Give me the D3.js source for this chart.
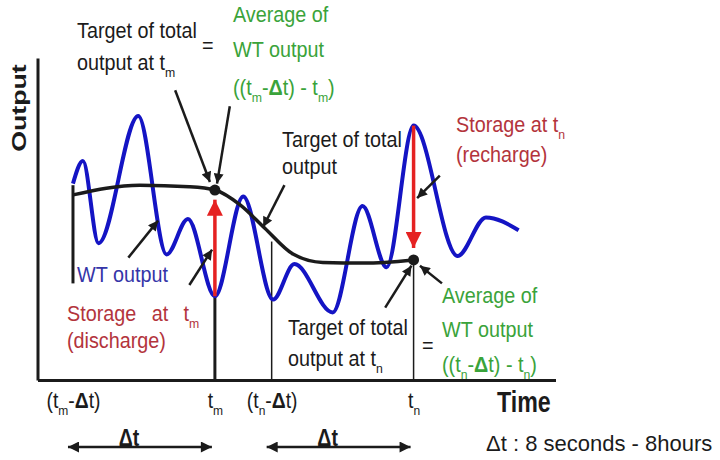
<!DOCTYPE html>
<html>
<head>
<meta charset="utf-8">
<script src="https://cdn.jsdelivr.net/npm/d3@7"></script>
<style>
  html, body { margin: 0; padding: 0; background: #fff; }
  svg { display: block; font-family: "Liberation Sans", Arial, sans-serif; }
</style>
</head>
<body>
<div id="chart"></div>
<script>
// time is counted so that tm-Δt = 0, tm = 10, tn-Δt = 14, tn = 24
const tickTimes = [0, 10, 14, 24];
const tickNames = ["(t_m-*Δ*t)", "t_m", "(t_n-*Δ*t)", "t_n"];

// wind turbine output (blue) and target of total output (black)
const wtTime = [0, 0.7, 1.8, 4.6, 6.6, 8.1, 10, 12.0, 14.1, 15.6, 18.3, 20.4, 22.1, 24, 27.1, 29.1, 31.4];
const wtOutput = [61, 68, 42.5, 82, 39, 50, 26, 57, 25, 36, 21, 54, 35, 79, 38.5, 50.5, 46.5];
const targetTime = [0, 4.7, 8.2, 10, 11.8, 13.5, 15.5, 17.6, 20.5, 24];
const targetOutput = [57.5, 60.5, 60, 59, 54.3, 47.2, 39.1, 36.5, 36.3, 37.3];

// averages marked at tm and tn
const markTime = [10, 24];
const markOutput = [59, 37.3];

// storage arrows: from WT output to target
const storeTime = [10, 24];
const storeFrom = [26, 79];
const storeTo = [56, 41];

// vertical guide lines
const dropTime = [0, 10, 14, 24];
const dropLow = [30, 0, 0, 0];
const dropHigh = [60.5, 26, 43, 37.3];

// the two Δt spans under the axis
const spanStart = [0, 14];
const spanEnd = [10, 24];

// callout pointers [t, value] -> [t, value]
const pointerFrom = [[7.2, 90], [11.05, 85], [14.9, 60.5], [3.9, 38], [8.2, 29.5], [25.85, 63.5], [22.0, 22.5], [26.0, 30]];
const pointerTo = [[9.65, 61.5], [10.15, 61], [13.4, 47.5], [6.0, 49.5], [9.8, 40.5], [24.25, 56.5], [23.85, 35.5], [24.45, 35.5]];

const ink = "#1b1b1b", green = "#3aa33a", maroon = "#b3343c", navy = "#3535a8";
const blue = "#1414c4", red = "#e52222";

const notes = [
  { x: 77, ys: [38, 70], lines: ["Target of total", "output at t_m"], fill: ink },
  { x: 202, ys: [53], lines: ["="], fill: ink },
  { x: 233, ys: [22, 57, 95], lines: ["Average of", "WT output", "((t_m-*Δ*t) - t_m)"], fill: green },
  { x: 282, ys: [147, 174], lines: ["Target of total", "output"], fill: ink },
  { x: 456, ys: [132, 162], lines: ["Storage at t_n", "(recharge)"], fill: maroon },
  { x: 77, ys: [282], lines: ["WT output"], fill: navy },
  { x: 67, ys: [321, 348], lines: ["Storage at t_m", "(discharge)"], fill: maroon, ws: 11 },
  { x: 288, ys: [335, 366], lines: ["Target of total", "output at t_n"], fill: ink },
  { x: 422, ys: [353], lines: ["="], fill: ink },
  { x: 442, ys: [303, 337, 372], lines: ["Average of", "WT output", "((t_n-*Δ*t) - t_n)"], fill: green },
  { x: 486, ys: [451], lines: ["Δt : 8 seconds - 8hours"], fill: ink, size: 22, sx: 1 }
];

const W = 720, H = 460;
const x = d3.scaleLinear().domain([-2.5, 34]).range([37.5, 555.5]);
const y = d3.scaleLinear().domain([0, 100]).range([380, 58]);

// writes "t_m" with a subscript and "*Δ*" in bold
function rich(sel, str) {
  const parts = str.split(/(_\w|\*[^*]+\*)/).filter(s => s !== "");
  let shift = 0;
  parts.forEach(p => {
    const ts = sel.append("tspan");
    if (p[0] === "_") {
      ts.text(p.slice(1)).attr("font-size", "0.62em").attr("dy", (7 - shift) + "px");
      shift = 7;
    } else {
      if (shift) { ts.attr("dy", -shift + "px"); shift = 0; }
      if (p[0] === "*") ts.text(p.slice(1, -1)).attr("font-weight", "bold");
      else ts.text(p);
    }
  });
}

const svg = d3.select("#chart").append("svg")
  .attr("width", W).attr("height", H);

const defs = svg.append("defs");
function marker(id, color, len, wid) {
  defs.append("marker")
    .attr("id", id)
    .attr("viewBox", "0 0 10 10")
    .attr("refX", 10).attr("refY", 5)
    .attr("markerUnits", "userSpaceOnUse")
    .attr("markerWidth", len).attr("markerHeight", wid)
    .attr("orient", "auto-start-reverse")
    .append("path").attr("d", "M0,0L10,5L0,10z").attr("fill", color);
}
marker("headBlack", ink, 12, 10);
marker("headRed", red, 18, 16);
marker("headSpan", ink, 12, 11);

// axes
const xAxis = svg.append("g")
  .attr("transform", `translate(0,${y(0)})`)
  .call(d3.axisBottom(x).tickValues(tickTimes).tickSize(0).tickSizeOuter(0).tickPadding(12).tickFormat(""));
xAxis.select(".domain").attr("stroke", ink).attr("stroke-width", 3);
xAxis.selectAll(".tick text")
  .attr("font-size", 22).attr("font-family", "Liberation Sans, Arial, sans-serif").attr("fill", ink)
  .attr("transform", "scale(0.88,1)")
  .each(function (d, i) { rich(d3.select(this), tickNames[i]); });

const yAxis = svg.append("g")
  .attr("transform", `translate(${x(-2.5)},0)`)
  .call(d3.axisLeft(y).tickValues([]).tickSizeOuter(0));
yAxis.select(".domain").attr("stroke", ink).attr("stroke-width", 3);

svg.append("text")
  .attr("transform", `translate(26,108) rotate(-90) scale(1.27,1)`)
  .attr("text-anchor", "middle")
  .attr("font-size", 21).attr("font-weight", "bold").attr("fill", ink)
  .text("Output");

svg.append("text")
  .attr("transform", "translate(497,412) scale(0.8,1)")
  .attr("font-size", 29).attr("font-weight", "bold").attr("fill", ink)
  .text("Time");

// guide lines
svg.selectAll("line.drop")
  .data(dropTime)
  .join("line")
  .attr("class", "drop")
  .attr("x1", d => x(d)).attr("x2", d => x(d))
  .attr("y1", (d, i) => y(dropLow[i])).attr("y2", (d, i) => y(dropHigh[i]))
  .attr("stroke", ink)
  .attr("stroke-width", (d, i) => i < 2 ? 3 : 1.5);

// curves
const wtData = wtTime.map((t, i) => [t, wtOutput[i]]);
const targetData = targetTime.map((t, i) => [t, targetOutput[i]]);
const line = d3.line().x(d => x(d[0])).y(d => y(d[1])).curve(d3.curveMonotoneX);

svg.append("path").datum(wtData)
  .attr("d", line).attr("fill", "none")
  .attr("stroke", blue).attr("stroke-width", 4).attr("stroke-linejoin", "round");

svg.append("path").datum(targetData)
  .attr("d", line).attr("fill", "none")
  .attr("stroke", ink).attr("stroke-width", 3.5);

// storage arrows
svg.selectAll("line.store")
  .data(storeTime)
  .join("line")
  .attr("class", "store")
  .attr("x1", d => x(d)).attr("x2", d => x(d))
  .attr("y1", (d, i) => y(storeFrom[i])).attr("y2", (d, i) => y(storeTo[i]))
  .attr("stroke", red).attr("stroke-width", 3.5)
  .attr("marker-end", "url(#headRed)");

svg.selectAll("circle.mark")
  .data(markTime)
  .join("circle")
  .attr("class", "mark")
  .attr("cx", d => x(d)).attr("cy", (d, i) => y(markOutput[i]))
  .attr("r", 5.5).attr("fill", ink);

// callout pointers
svg.selectAll("line.pointer")
  .data(pointerFrom)
  .join("line")
  .attr("class", "pointer")
  .attr("x1", d => x(d[0])).attr("y1", d => y(d[1]))
  .attr("x2", (d, i) => x(pointerTo[i][0])).attr("y2", (d, i) => y(pointerTo[i][1]))
  .attr("stroke", ink).attr("stroke-width", 2.5)
  .attr("marker-end", "url(#headBlack)");

// Δt spans
svg.selectAll("line.span")
  .data(spanStart)
  .join("line")
  .attr("class", "span")
  .attr("x1", d => x(d) - 5).attr("x2", (d, i) => x(spanEnd[i]) - 3)
  .attr("y1", 447).attr("y2", 447)
  .attr("stroke", ink).attr("stroke-width", 2.5)
  .attr("marker-start", "url(#headSpan)")
  .attr("marker-end", "url(#headSpan)");

svg.selectAll("text.span")
  .data(spanStart)
  .join("text")
  .attr("class", "span")
  .attr("transform", (d, i) => `translate(${(x(d) + x(spanEnd[i])) / 2 - 15},446) scale(0.85,1)`)
  .attr("text-anchor", "middle")
  .attr("font-size", 23).attr("font-weight", "bold").attr("fill", ink)
  .text("Δt");

// annotation text, a little narrow like the source
notes.forEach(n => {
  n.lines.forEach((ln, j) => {
    const t = svg.append("text")
      .attr("transform", `translate(${n.x},${n.ys[j]}) scale(${n.sx || 0.9},1)`)
      .attr("font-size", n.size || 22)
      .attr("fill", n.fill);
    if (n.ws) t.attr("word-spacing", n.ws);
    rich(t, ln);
  });
});
</script>
</body>
</html>
